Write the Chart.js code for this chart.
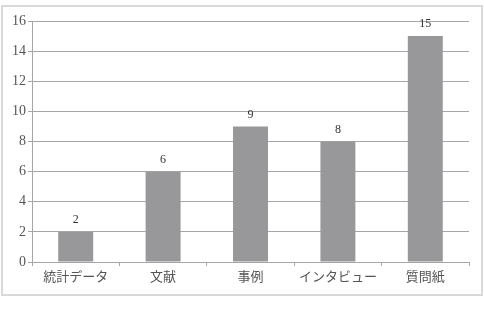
<!DOCTYPE html>
<html>
<head>
<meta charset="utf-8">
<script src="https://cdn.jsdelivr.net/npm/chart.js@4.4.1/dist/chart.umd.min.js"></script>
<style>
  html, body { margin: 0; padding: 0; background: #fff; }
  #box { position: absolute; left: 1px; top: 5px; width: 478px; height: 287px; border: 2px solid #d9d9d9; }
</style>
</head>
<body>
<div id="box"><canvas id="barChart" width="478" height="287"></canvas></div>
<script>
const categories = ['統計データ', '文献', '事例', 'インタビュー', '質問紙'];
const counts = [2, 6, 9, 8, 15];

const fontFamily = '"Liberation Serif", "DejaVu Serif", "Noto Sans CJK JP", serif';

// draw the value above each bar
const valueLabels = {
    id: 'valueLabels',
    afterDatasetsDraw(chart) {
        const ctx = chart.ctx;
        const meta = chart.getDatasetMeta(0);
        ctx.save();
        ctx.fillStyle = '#333';
        ctx.font = '12px ' + fontFamily;
        ctx.textAlign = 'center';
        ctx.textBaseline = 'bottom';
        meta.data.forEach((bar, i) => {
            ctx.fillText(String(counts[i]), bar.x, bar.y - 6);
        });
        ctx.restore();
    }
};

const ctx = document.getElementById('barChart').getContext('2d');

const barChart = new Chart(ctx, {
    type: 'bar',
    data: {
        labels: categories,
        datasets: [{
            data: counts,
            backgroundColor: '#98989a',
            barPercentage: 0.4,
            categoryPercentage: 1.0
        }]
    },
    options: {
        responsive: false,
        animation: false,
        layout: { padding: { top: 14, right: 12, left: 0, bottom: 0 } },
        plugins: {
            legend: { display: false },
            tooltip: { enabled: false }
        },
        scales: {
            x: {
                grid: { offset: true, drawOnChartArea: false, color: '#a6a6a6', tickLength: 4 },
                border: { color: '#a6a6a6' },
                ticks: { color: '#555', font: { family: fontFamily, size: 13 }, padding: 4, maxRotation: 0 },
                afterFit(scale) { scale.height = 32; }
            },
            y: {
                min: 0,
                max: 16,
                grid: { color: '#a6a6a6', tickLength: 4 },
                border: { color: '#a6a6a6' },
                ticks: { stepSize: 2, color: '#555', font: { family: fontFamily, size: 14 }, padding: 2 },
                afterFit(scale) { scale.width = 29; }
            }
        }
    },
    plugins: [valueLabels]
});
</script>
</body>
</html>
